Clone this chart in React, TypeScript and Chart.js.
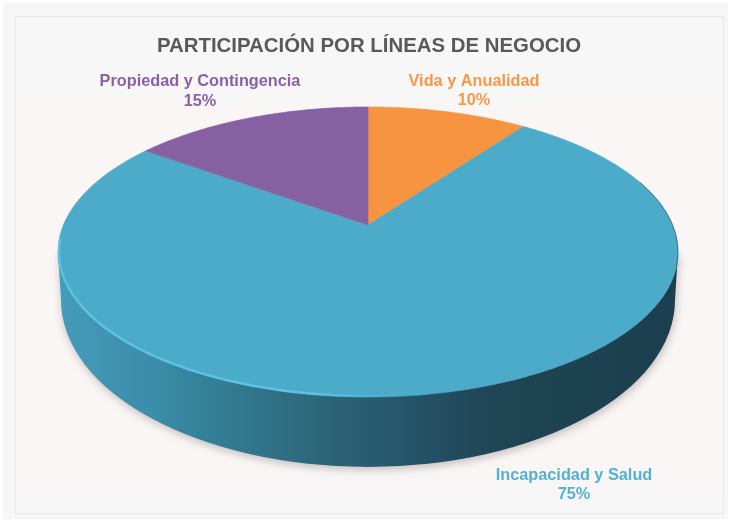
import React, { useEffect, useRef } from "react";
import { Chart, registerables } from "chart.js";

Chart.register(...registerables);

const titleText = "PARTICIPACIÓN POR LÍNEAS DE NEGOCIO";
const categories = ["Vida y Anualidad", "Incapacidad y Salud", "Propiedad y Contingencia"];
const shares = [10, 75, 15];
const shareLabels = ["10%", "75%", "15%"];
const sliceColors = ["#F79440", "#4BABC8", "#8560A2"];
const labelColors = ["#F99745", "#52B1D2", "#8A60A8"];
const labelAnchors = [
  { x: 474, y1: 82, y2: 101 },
  { x: 574, y1: 476, y2: 495 },
  { x: 200, y1: 82, y2: 102 },
];

// Perspective of the pie's top face, and the outline of the wall beneath it.
const face = { cx: 368, cy: 225, k: 304.6, m: 140, p: 0.186 };
const rim = { cx: 368, cy: 252, rx: 310, ry: 145 };
const base = { cx: 368, cy: 300, rx: 307, ry: 167 };

const project = (a: number) => {
  const x = Math.cos(a);
  const y = -Math.sin(a);
  const w = 1 + face.p * y;
  return { x: face.cx + (face.k * x) / w, y: face.cy - (face.m * y) / w };
};

const pie3d = {
  id: "pie3d",
  beforeDatasetDraw(chart: any) {
    const ctx: CanvasRenderingContext2D = chart.ctx;
    ctx.save();
    // side wall
    const wall = ctx.createLinearGradient(60, 0, 676, 0);
    wall.addColorStop(0, "#449CBB");
    wall.addColorStop(0.15, "#3B8DA9");
    wall.addColorStop(0.23, "#33829A");
    wall.addColorStop(0.39, "#2E6A7D");
    wall.addColorStop(0.55, "#25566A");
    wall.addColorStop(0.71, "#1F4454");
    wall.addColorStop(1, "#1B3F4E");
    ctx.save();
    ctx.shadowColor = "rgba(60,40,50,0.28)";
    ctx.shadowBlur = 9;
    ctx.shadowOffsetY = 3;
    ctx.shadowOffsetX = 1;
    ctx.beginPath();
    ctx.moveTo(rim.cx - rim.rx, rim.cy);
    ctx.lineTo(base.cx - base.rx, base.cy);
    ctx.ellipse(base.cx, base.cy, base.rx, base.ry, 0, Math.PI, 0, true);
    ctx.lineTo(rim.cx + rim.rx, rim.cy);
    ctx.closePath();
    ctx.fillStyle = wall;
    ctx.fill();
    ctx.restore();

    // top face, one slice per arc of the library's controller
    const arcs = chart.getDatasetMeta(0).data;
    arcs.forEach((arc: any) => {
      const { startAngle, endAngle } = arc.getProps(["startAngle", "endAngle"], true);
      ctx.beginPath();
      ctx.moveTo(face.cx, face.cy);
      const steps = Math.max(8, Math.ceil((endAngle - startAngle) * 60));
      for (let i = 0; i <= steps; i++) {
        const q = project(startAngle + ((endAngle - startAngle) * i) / steps);
        ctx.lineTo(q.x, q.y);
      }
      ctx.closePath();
      ctx.fillStyle = arc.options.backgroundColor;
      ctx.strokeStyle = arc.options.backgroundColor;
      ctx.lineWidth = 0.6;
      ctx.fill();
      ctx.stroke();
    });

    // bright rim on the lower-left edge
    const glow = ctx.createLinearGradient(58, 0, 400, 0);
    glow.addColorStop(0, "#5CC3E4");
    glow.addColorStop(0.75, "#5CC3E4");
    glow.addColorStop(1, "rgba(92,195,228,0)");
    ctx.beginPath();
    ctx.ellipse(rim.cx, rim.cy, rim.rx - 1, rim.ry - 1, 0, Math.PI * 1.03, Math.PI * 0.45, true);
    ctx.strokeStyle = glow;
    ctx.lineWidth = 2.2;
    ctx.stroke();

    // thin dark edge on the right of the face
    ctx.beginPath();
    ctx.ellipse(rim.cx, rim.cy, rim.rx, rim.ry, 0, -0.5, 0.1);
    ctx.strokeStyle = "rgba(30,70,85,0.55)";
    ctx.lineWidth = 1;
    ctx.stroke();
    ctx.restore();
    return false;
  },
  afterDraw(chart: any) {
    const ctx: CanvasRenderingContext2D = chart.ctx;
    ctx.save();
    ctx.textAlign = "center";
    ctx.textBaseline = "middle";
    ctx.font = "bold 16.3px 'Liberation Sans'";
    categories.forEach((name, i) => {
      const a = labelAnchors[i];
      ctx.fillStyle = labelColors[i];
      ctx.fillText(name, a.x, a.y1);
      ctx.fillText(shareLabels[i], a.x, a.y2);
    });
    ctx.restore();
  },
};

export default function App() {
  const ref = useRef<HTMLCanvasElement>(null);
  useEffect(() => {
    const chart = new Chart(ref.current!, {
      type: "pie",
      data: {
        labels: categories,
        datasets: [{ data: shares, backgroundColor: sliceColors, borderWidth: 0 }],
      },
      options: {
        responsive: false,
        animation: false,
        layout: { padding: { left: 7 } },
        plugins: {
          legend: { display: false },
          tooltip: { enabled: false },
          title: {
            display: true,
            fullSize: false,
            text: titleText,
            color: "#595959",
            font: { family: "'Liberation Sans'", size: 20.4, weight: "bold" },
            padding: { top: 34, bottom: 10 },
          },
        },
      },
      plugins: [pie3d],
    } as any);
    return () => chart.destroy();
  }, []);
  return (
    <div style={{ position: "fixed", left: 0, top: 0, width: 731, height: 522, background: "#FFFFFF" }}>
      <div
        style={{
          position: "absolute",
          left: 3,
          top: 3,
          width: 725,
          height: 516,
          background: "#F6F6F6",
        }}
      />
      <div
        style={{
          position: "absolute",
          left: 15,
          top: 16,
          width: 707,
          height: 496,
          border: "1px solid #E6E6E6",
          background:
            "linear-gradient(180deg, #F7F7F7 0px, #F7F7F7 80px, #FAF6F5 90px, #FAF6F5 440px, #F7F6F6 480px, #F6F6F6 496px)",
        }}
      />
      <canvas ref={ref} width={731} height={522} style={{ position: "absolute", left: 0, top: 0 }} />
    </div>
  );
}
